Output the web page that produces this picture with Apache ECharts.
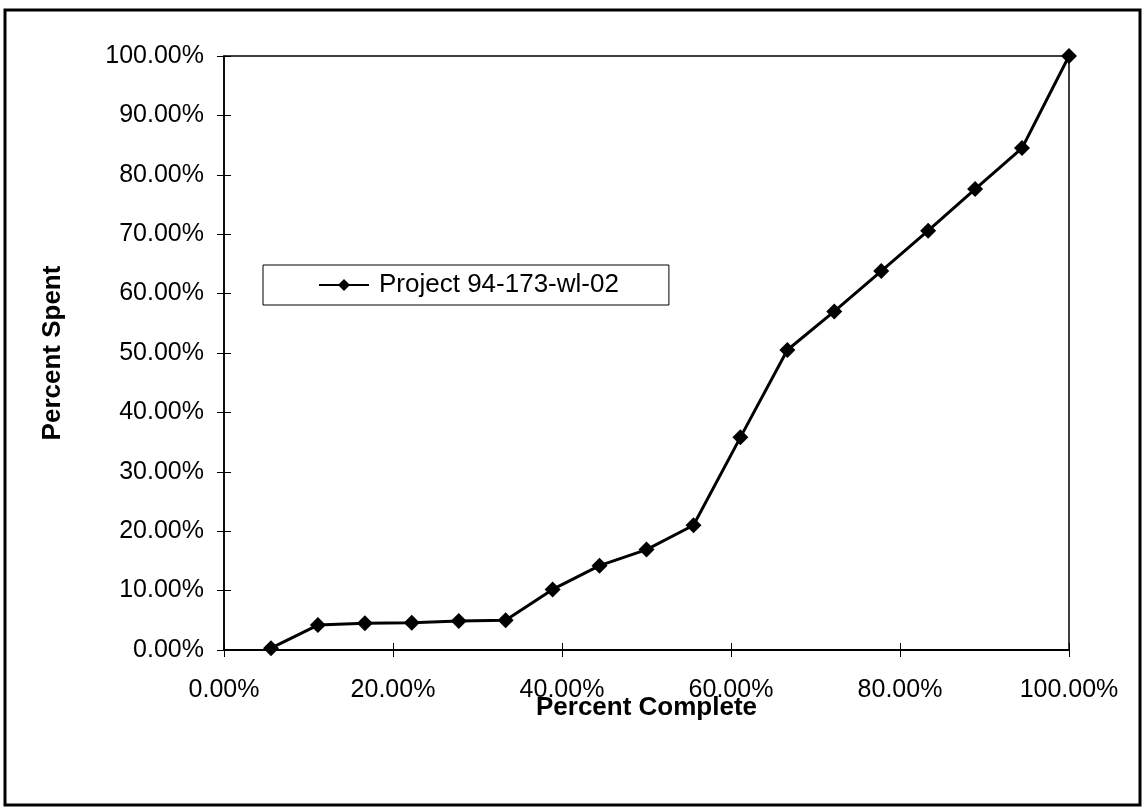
<!DOCTYPE html>
<html>
<head>
<meta charset="utf-8">
<script src="https://cdn.jsdelivr.net/npm/echarts@6/dist/echarts.min.js"></script>
<style>
html,body{margin:0;padding:0;background:#fff;}
#chart{width:1143px;height:807px;}
</style>
</head>
<body>
<div id="chart"></div>
<script>
// Data
var seriesName = 'Project 94-173-wl-02';
var percentComplete = [5.56, 11.11, 16.67, 22.22, 27.78, 33.33, 38.89, 44.44, 50.00, 55.56, 61.11, 66.67, 72.22, 77.78, 83.33, 88.89, 94.44, 100.00];
var percentSpent = [0.3, 4.2, 4.5, 4.6, 4.9, 5.0, 10.2, 14.2, 16.9, 21.0, 35.8, 50.5, 57.0, 63.8, 70.6, 77.6, 84.5, 100.0];
var xTicks = [0, 20, 40, 60, 80, 100];
var yTicks = [0, 10, 20, 30, 40, 50, 60, 70, 80, 90, 100];

var FONT = '"Liberation Sans", Arial, sans-serif';
function pct(v){ return v.toFixed(2) + '%'; }

var chart = echarts.init(document.getElementById('chart'), null, {renderer:'canvas'});
var points = percentComplete.map(function(x,i){ return [x, percentSpent[i]]; });

var baseX = {
  type:'value', min:xTicks[0], max:xTicks[xTicks.length-1], interval:xTicks[1]-xTicks[0],
  splitLine:{show:false}
};
var baseY = {
  type:'value', min:yTicks[0], max:yTicks[yTicks.length-1], interval:yTicks[1]-yTicks[0],
  splitLine:{show:false}
};

chart.setOption({
  backgroundColor:'#fff',
  animation:false,
  grid:{left:224, top:56, right:74, bottom:157, show:true, borderColor:'#000', borderWidth:1.5, backgroundColor:'transparent'},
  graphic:[{
    type:'rect', shape:{x:5, y:10, width:1135, height:795},
    style:{fill:'none', stroke:'#000', lineWidth:3}, silent:true, z:-1
  }],
  legend:{
    left:263, top:265,
    data:[seriesName],
    backgroundColor:'#fff',
    borderColor:'#000', borderWidth:1,
    padding:[7, 50, 7, 55],
    itemWidth:50, itemHeight:15,
    textStyle:{fontFamily:FONT, fontSize:26, color:'#000', padding:[0,0,0,5]}
  },
  xAxis:[
    Object.assign({}, baseX, {
      name:'Percent Complete', nameLocation:'middle', nameGap:45, nameMoveOverlap:false,
      nameTextStyle:{fontFamily:FONT, fontSize:26, fontWeight:'bold', color:'#000'},
      axisLine:{show:true, onZero:false, lineStyle:{color:'#000', width:2}},
      axisTick:{show:true, inside:false, length:7, lineStyle:{color:'#000', width:1}},
      axisLabel:{show:true, margin:28, formatter:pct, fontFamily:FONT, fontSize:25, color:'#000'}
    }),
    Object.assign({}, baseX, {
      position:'bottom',
      axisLine:{show:false, onZero:false},
      axisTick:{show:true, inside:true, length:7, lineStyle:{color:'#000', width:1}},
      axisLabel:{show:false}
    })
  ],
  yAxis:[
    Object.assign({}, baseY, {
      name:'Percent Spent', nameLocation:'middle', nameGap:158, nameRotate:90, nameMoveOverlap:false,
      nameTextStyle:{fontFamily:FONT, fontSize:26, fontWeight:'bold', color:'#000'},
      axisLine:{show:true, onZero:false, lineStyle:{color:'#000', width:1.5}},
      axisTick:{show:true, inside:false, length:7, lineStyle:{color:'#000', width:1}},
      axisLabel:{show:true, margin:20, formatter:pct, fontFamily:FONT, fontSize:25, color:'#000'}
    }),
    Object.assign({}, baseY, {
      position:'left',
      axisLine:{show:false, onZero:false},
      axisTick:{show:true, inside:true, length:7, lineStyle:{color:'#000', width:1}},
      axisLabel:{show:false}
    })
  ],
  series:[{
    name:seriesName,
    type:'line',
    xAxisIndex:0, yAxisIndex:0,
    data:points,
    symbol:'diamond', symbolSize:16,
    showAllSymbol:true,
    itemStyle:{color:'#000'},
    lineStyle:{color:'#000', width:3},
    z:5
  }]
});
</script>
</body>
</html>
